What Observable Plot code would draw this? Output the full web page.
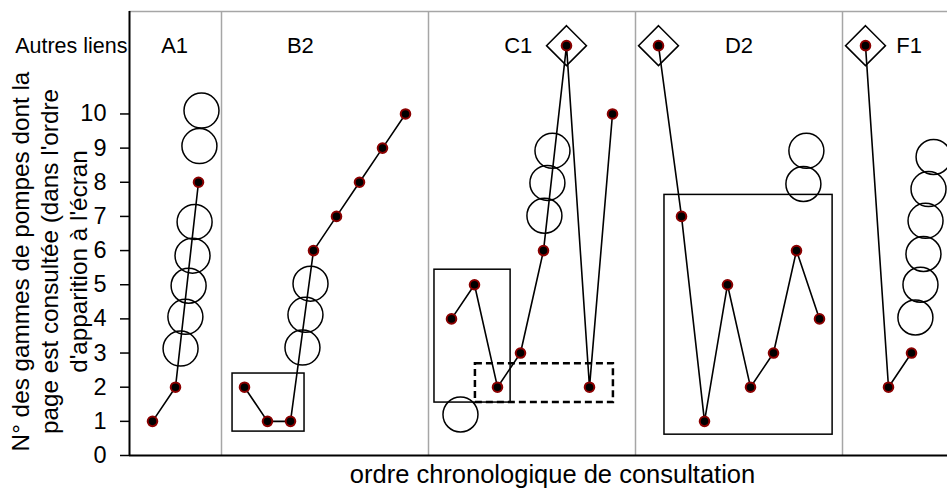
<!DOCTYPE html>
<html>
<head>
<meta charset="utf-8">
<script src="https://cdn.jsdelivr.net/npm/d3@7"></script>
<script src="https://cdn.jsdelivr.net/npm/@observablehq/plot@0.6"></script>
<style>
  html, body { margin: 0; padding: 0; background: #fff; overflow: hidden; }
  #chart svg { display: block; }
</style>
</head>
<body>
<div id="chart"></div>
<script>
// ---- data ----
const groups = ["A1", "B2", "C1", "D2", "F1"];
const groupLabelX = [1.96, 7.43, 16.9, 26.5, 33.9];
const separators = [4, 13, 22, 31];

// consultation order (x) and rank of the page (y); 12 = "Autres liens"
const pointGroup = ["A1","A1","A1",
  "B2","B2","B2","B2","B2","B2","B2","B2",
  "C1","C1","C1","C1","C1","C1","C1","C1",
  "D2","D2","D2","D2","D2","D2","D2","D2",
  "F1","F1","F1"];
const pointOrder = [1,2,3, 5,6,7,8,9,10,11,12, 14,15,16,17,18,19,20,21, 23,24,25,26,27,28,29,30, 32,33,34];
const pointRank  = [1,2,8, 2,1,1,6,7,8,9,10, 4,5,2,3,6,12,2,10, 12,7,1,5,2,3,6,4, 12,2,3];

// open circles
const circleX = [3.13,3.04,2.83,2.74,2.57,2.43,2.22, 7.52,7.65,7.87, 14.39,18.04,18.17,18.39, 29.3,29.43, 34.17,34.39,34.52,34.61,34.74,34.96];
const circleY = [10.1,9.06,6.84,5.85,4.97,4.06,3.13, 3.16,4.12,5.03, 1.2,7.02,7.98,8.92, 7.95,8.92, 4.04,5.0,5.9,6.87,7.8,8.74];

// open diamonds ("Autres liens")
const diamondX = [19, 23, 32];
const diamondY = [12, 12, 12];

// boxes
const boxX1 = [4.48, 13.26, 23.26];
const boxX2 = [7.61, 16.57, 30.57];
const boxY1 = [0.7, 1.55, 0.61];
const boxY2 = [2.4, 5.44, 7.63];
const dashX1 = [15.04];
const dashX2 = [21.04];
const dashY1 = [1.55];
const dashY2 = [2.69];

const yTicks = [0,1,2,3,4,5,6,7,8,9,10];
const otherLabel = "Autres liens";
const otherLevel = 12;
const yTitle = "N° des gammes de pompes dont la\npage est consultée (dans l'ordre\nd'apparition à l'écran";
const xTitle = "ordre chronologique de consultation";

// ---- build tables ----
const points = pointOrder.map((x, i) => ({x, y: pointRank[i], g: pointGroup[i]}));
const circles = circleX.map((x, i) => ({x, y: circleY[i]}));
const diamonds = diamondX.map((x, i) => ({x, y: diamondY[i]}));
const boxes = boxX1.map((x1, i) => ({x1, x2: boxX2[i], y1: boxY1[i], y2: boxY2[i]}));
const dashes = dashX1.map((x1, i) => ({x1, x2: dashX2[i], y1: dashY1[i], y2: dashY2[i]}));
const labels = groups.map((g, i) => ({x: groupLabelX[i], y: otherLevel, g}));

const W = 947, H = 488;
const mL = 129, mR = 0, mT = 11, mB = 33;
const xMax = (W - mL) / 23;

const chart = Plot.plot({
  width: W,
  height: H,
  marginLeft: mL,
  marginRight: mR,
  marginTop: mT,
  marginBottom: mB,
  style: {fontFamily: "'Liberation Sans', Arial, sans-serif", background: "#fff", overflow: "hidden"},
  x: {domain: [0, xMax], axis: null},
  y: {domain: [0, 13], axis: null},
  marks: [
    // gray frame parts
    Plot.ruleY([13], {stroke: "#a6a6a6", strokeWidth: 1.5}),
    Plot.ruleX(separators, {y1: 0, y2: 13, stroke: "#a6a6a6", strokeWidth: 1.5}),
    // axes
    Plot.axisY({ticks: yTicks, tickSize: 9, tickPadding: 14, fontSize: 23.5, label: null, stroke: "#000", strokeWidth: 1.5, color: "#000"}),
    Plot.ruleX([0], {y1: 0, y2: 13, stroke: "#000", strokeWidth: 2}),
    Plot.ruleY([0], {stroke: "#000", strokeWidth: 2}),
    Plot.text([otherLabel], {x: 0, y: otherLevel, dx: -2, textAnchor: "end", fontSize: 21.5, fill: "#000"}),
    // boxes
    Plot.rect(boxes, {x1: "x1", x2: "x2", y1: "y1", y2: "y2", fill: "none", stroke: "#000", strokeWidth: 1.5}),
    Plot.rect(dashes, {x1: "x1", x2: "x2", y1: "y1", y2: "y2", fill: "none", stroke: "#000", strokeWidth: 2.5, strokeDasharray: "7,4"}),
    // circles & diamonds
    Plot.dot(circles, {x: "x", y: "y", r: 17.5, fill: "none", stroke: "#000", strokeWidth: 1.5}),
    Plot.dot(diamonds, {x: "x", y: "y", r: 18, symbol: "diamond2", fill: "none", stroke: "#000", strokeWidth: 1.5}),
    // lines and points
    Plot.line(points, {x: "x", y: "y", z: "g", stroke: "#000", strokeWidth: 1.6}),
    Plot.dot(points, {x: "x", y: "y", r: 4.8, fill: "#000", stroke: "#8b0000", strokeWidth: 2}),
    // group labels
    Plot.text(labels, {x: "x", y: "y", text: "g", fontSize: 22, fill: "#000"}),
    // titles
    Plot.text([yTitle], {frameAnchor: "left", rotate: -90, dx: -81, dy: 28, fontSize: 24.3, lineHeight: 1.2, textAnchor: "middle", lineAnchor: "middle", fill: "#000"}),
    Plot.text([xTitle], {frameAnchor: "bottom", dx: 552 - (mL + (W - mL - mR) / 2), dy: 19, fontSize: 25.5, textAnchor: "middle", lineAnchor: "middle", fill: "#000"})
  ]
});
document.getElementById("chart").appendChild(chart);
</script>
</body>
</html>
